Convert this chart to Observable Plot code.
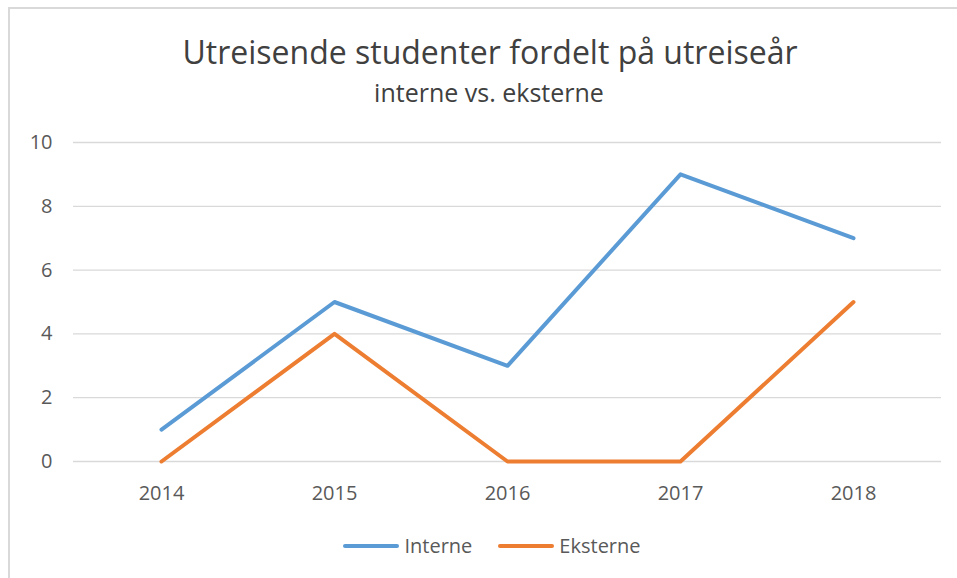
<!DOCTYPE html>
<html>
<head>
<meta charset="utf-8">
<script src="https://cdn.jsdelivr.net/npm/d3@7"></script>
<script src="https://cdn.jsdelivr.net/npm/@observablehq/plot@0.6"></script>
<style>
  body { margin: 0; background: #fff; font-family: "Open Sans", "Noto Sans", sans-serif; color: #595959; }
  #wrap { position: relative; width: 957px; height: 578px; overflow: hidden; }
  #frame { position: absolute; left: 8px; top: 7px; width: 1000px; height: 600px; border-left: 2px solid #d9d9d9; border-top: 2px solid #d9d9d9; box-sizing: border-box; }
  #title { position: absolute; left: 0; width: 980px; top: 30px; text-align: center; font-size: 32px; line-height: 44px; color: #404040; }
  #subtitle { position: absolute; left: 0; width: 978px; top: 75px; text-align: center; font-size: 25px; line-height: 34px; color: #404040; }
  #chart { position: absolute; left: 0; top: 120px; }
  #legend { position: absolute; left: 0; width: 984px; top: 532px; display: flex; justify-content: center; gap: 26px; font-size: 20px; line-height: 28px; color: #595959; }
  .item { display: flex; align-items: center; gap: 5px; }
</style>
</head>
<body>
<div id="wrap">
  <div id="frame"></div>
  <div id="title">Utreisende studenter fordelt på utreiseår</div>
  <div id="subtitle">interne vs. eksterne</div>
  <div id="chart"></div>
  <div id="legend"></div>
</div>
<script>
const years = ["2014", "2015", "2016", "2017", "2018"];
const interne = [1, 5, 3, 9, 7];
const eksterne = [0, 4, 0, 0, 5];
const seriesNames = ["Interne", "Eksterne"];
const seriesColors = ["#5B9BD5", "#ED7D31"];
const yTicks = [0, 2, 4, 6, 8, 10];

const data = [];
years.forEach((y, i) => {
  data.push({year: y, value: interne[i], series: seriesNames[0]});
  data.push({year: y, value: eksterne[i], series: seriesNames[1]});
});

const plot = Plot.plot({
  width: 957,
  height: 391,
  marginLeft: 73,
  marginRight: 16,
  marginTop: 22,
  marginBottom: 50,
  style: { fontFamily: "'Open Sans', 'Noto Sans', sans-serif", fontSize: "20px", color: "#595959", background: "transparent", overflow: "visible" },
  x: { type: "point", domain: years, padding: 0.5, label: null },
  y: { domain: [0, 10], ticks: yTicks, label: null },
  color: { domain: seriesNames, range: seriesColors },
  marks: [
    Plot.gridY(yTicks, { stroke: "#d9d9d9", strokeOpacity: 1, strokeWidth: 1.3 }),
    Plot.axisY(yTicks, { tickSize: 0, tickPadding: 21, fontSize: 20, label: null }),
    Plot.axisX({ tickSize: 0, tickPadding: 24, fontSize: 20, label: null }),
    Plot.line(data, { x: "year", y: "value", z: "series", stroke: "series", strokeWidth: 4, strokeLinecap: "round", strokeLinejoin: "round" })
  ]
});
document.getElementById("chart").appendChild(plot);

const legend = document.getElementById("legend");
seriesNames.forEach((name, i) => {
  const item = document.createElement("div");
  item.className = "item";
  item.innerHTML = `<svg width="56" height="10"><line x1="2" y1="5" x2="54" y2="5" stroke="${seriesColors[i]}" stroke-width="4" stroke-linecap="round"/></svg><span>${name}</span>`;
  legend.appendChild(item);
});
</script>
</body>
</html>
